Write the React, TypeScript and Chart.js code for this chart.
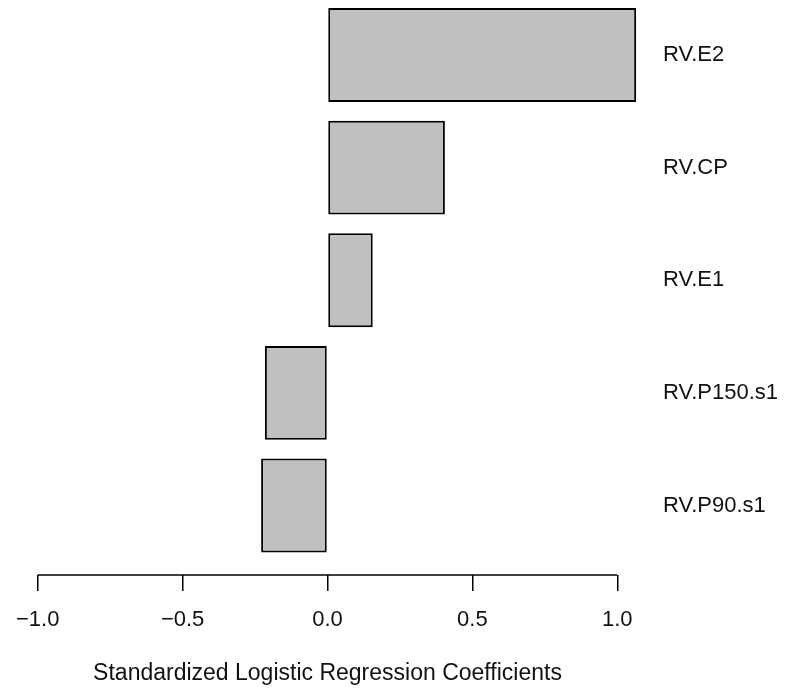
import React, { useEffect, useRef } from "react";
import { Chart, registerables } from "chart.js";

Chart.register(...registerables);

const categories = ["RV.P90.s1", "RV.P150.s1", "RV.E1", "RV.CP", "RV.E2"];
const coefficients = [-0.229, -0.216, 0.156, 0.405, 1.065];
const barPositions = [0.7, 1.9, 3.1, 4.3, 5.5];
const xTicks = [-1, -0.5, 0, 0.5, 1];
const xTitle = "Standardized Logistic Regression Coefficients";

const FONT = "'Liberation Sans', Arial, sans-serif";

const axisLinePlugin = {
  id: "axisLine",
  afterDraw(chart: any) {
    const xs = chart.scales.x;
    const ys = chart.scales.y;
    const ctx = chart.ctx;
    const y = chart.chartArea.bottom;
    ctx.save();
    ctx.strokeStyle = "#000";
    ctx.lineWidth = 1.5;
    ctx.beginPath();
    ctx.moveTo(xs.getPixelForValue(xTicks[0]), y);
    ctx.lineTo(xs.getPixelForValue(xTicks[xTicks.length - 1]), y);
    ctx.stroke();
    // category labels on the right, at each bar's position on the y scale
    ctx.fillStyle = "#111";
    ctx.font = `22px ${FONT}`;
    ctx.textAlign = "left";
    ctx.textBaseline = "middle";
    const lx = chart.chartArea.right + 22.5;
    categories.forEach((c, i) => {
      ctx.fillText(c, lx, ys.getPixelForValue(barPositions[i]));
    });
    ctx.restore();
  },
};

export default function App() {
  const ref = useRef<HTMLCanvasElement | null>(null);

  useEffect(() => {
    document.body.style.margin = "0";
    const canvas = ref.current;
    if (!canvas) return;
    const chart = new Chart(canvas, {
      type: "bar",
      data: {
        datasets: [
          {
            data: categories.map((_, i) => ({ x: coefficients[i], y: barPositions[i] })),
            backgroundColor: "#C0C0C0",
            borderColor: "#000",
            borderWidth: 2,
            borderSkipped: false,
            categoryPercentage: 1,
            barPercentage: 1 / 1.2,
          },
        ],
      },
      plugins: [axisLinePlugin],
      options: {
        indexAxis: "y",
        animation: false,
        responsive: false,
        devicePixelRatio: 1,
        layout: { padding: { left: 14.5, right: 145.5, top: 0, bottom: 0 } },
        plugins: {
          legend: { display: false },
          tooltip: { enabled: false },
        },
        scales: {
          x: {
            type: "linear",
            position: "bottom",
            min: -1.08,
            max: 1.08,
            afterBuildTicks: (axis: any) => {
              axis.ticks = xTicks.map((v) => ({ value: v }));
            },
            afterFit: (scale: any) => {
              scale.height = 114;
              scale.paddingLeft = 0;
              scale.paddingRight = 0;
            },
            grid: {
              display: true,
              drawOnChartArea: false,
              drawTicks: true,
              tickLength: 16,
              color: "#000",
              lineWidth: 1.5,
            },
            border: { display: false },
            ticks: {
              padding: 16,
              color: "#111",
              font: { family: FONT, size: 22 },
              maxRotation: 0,
              autoSkip: false,
              callback: (v: any) => Number(v).toFixed(1).replace("-", "\u2212"),
            },
            title: {
              display: true,
              text: xTitle,
              color: "#111",
              font: { family: FONT, size: 23 },
              padding: { top: 0, bottom: 2 },
            },
          },
          y: {
            type: "linear",
            display: false,
            offset: false,
            grid: { offset: false },
            min: -0.0405,
            max: 6.086,
            afterBuildTicks: (axis: any) => {
              axis.ticks = barPositions.map((v) => ({ value: v }));
            },
          },
        },
      } as any,
    });
    return () => chart.destroy();
  }, []);

  return (
    <div style={{ width: 786, height: 689, position: "relative" }}>
      <canvas ref={ref} width={786} height={689} style={{ display: "block" }} />
    </div>
  );
}
